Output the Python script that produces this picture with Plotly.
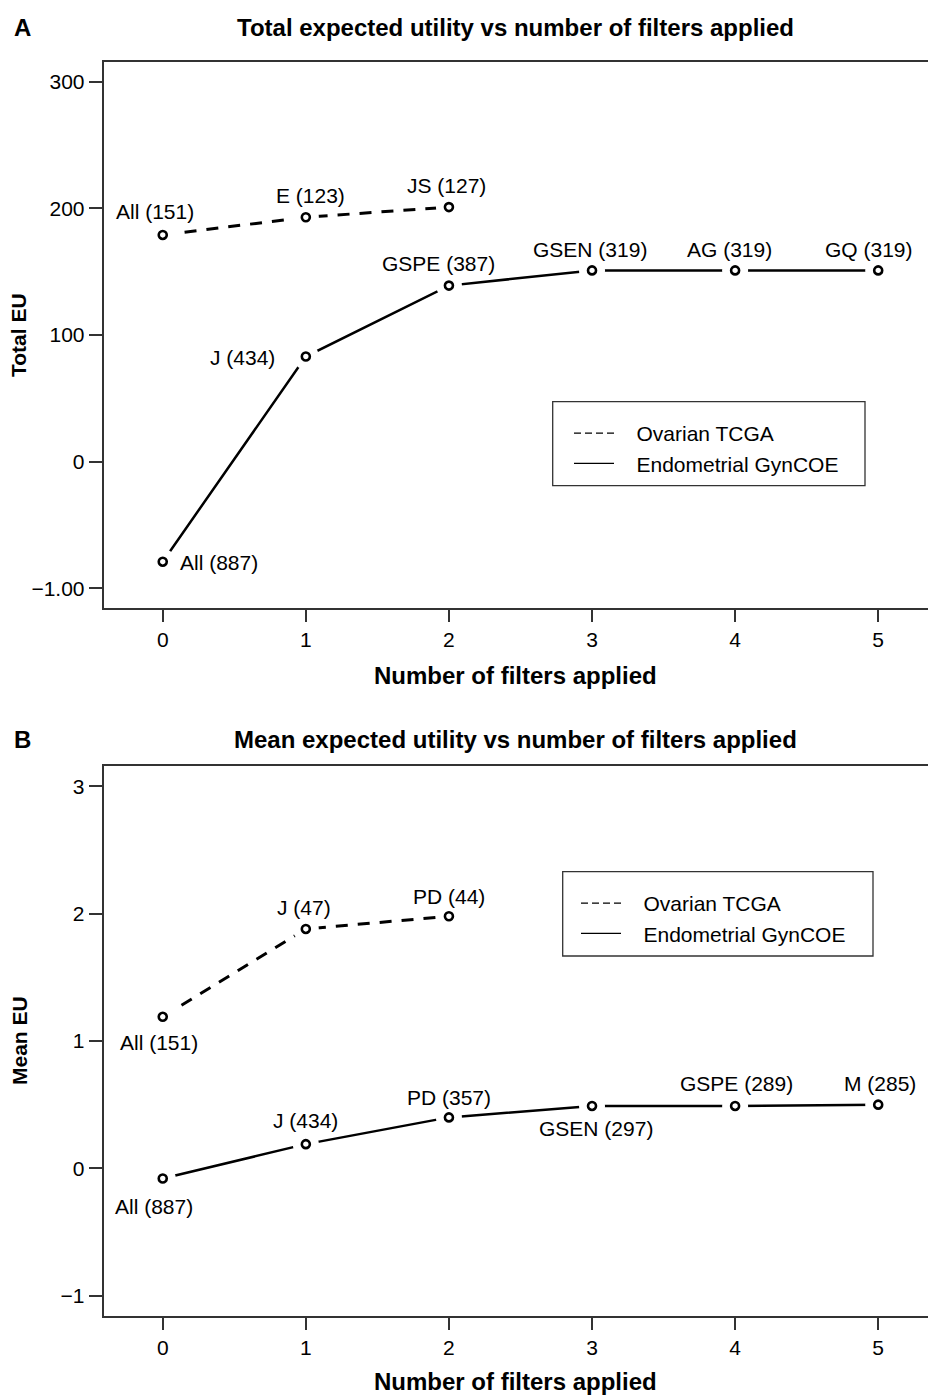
import plotly.graph_objects as go

W, H = 928, 1396

# ---------------- data ----------------
steps = [0, 1, 2, 3, 4, 5]

# Panel A: total expected utility
a_ov_x = [0, 1, 2]
a_ov_y = [179, 193, 201]
a_ov_lab = ["All (151)", "E (123)", "JS (127)"]

a_en_x = [0, 1, 2, 3, 4, 5]
a_en_y = [-79, 83, 139, 151, 151, 151]
a_en_lab = ["All (887)", "J (434)", "GSPE (387)", "GSEN (319)", "AG (319)", "GQ (319)"]

a_ytick_vals = [-100, 0, 100, 200, 300]
a_ytick_text = ["\u22121.00", "0", "100", "200", "300"]

# Panel B: mean expected utility
b_ov_x = [0, 1, 2]
b_ov_y = [1.19, 1.88, 1.98]
b_ov_lab = ["All (151)", "J (47)", "PD (44)"]

b_en_x = [0, 1, 2, 3, 4, 5]
b_en_y = [-0.08, 0.19, 0.40, 0.49, 0.49, 0.50]
b_en_lab = ["All (887)", "J (434)", "PD (357)", "GSEN (297)", "GSPE (289)", "M (285)"]

b_ytick_vals = [-1, 0, 1, 2, 3]
b_ytick_text = ["\u22121", "0", "1", "2", "3"]

series_names = ["Ovarian TCGA", "Endometrial GynCOE"]
titles = ["Total expected utility vs number of filters applied",
          "Mean expected utility vs number of filters applied"]
ytitles = ["Total EU", "Mean EU"]
xtitle = "Number of filters applied"
panel_letters = ["A", "B"]

# ---------------- style ----------------
FONT = "Liberation Sans, Arial, Helvetica, sans-serif"
AX = "#333333"

def px_x(p):
    return p / W

def px_y(p):
    return 1 - p / H

# label offsets (pixels) relative to markers: (xshift, yshift, xanchor)
a_ov_off = [(-8, 23, "center"), (5, 22, "center"), (-2, 22, "center")]
a_en_off = [(15, -1, "left"), (-29, -1, "right"), (-10, 22, "center"),
            (-2, 21, "center"), (-6, 21, "center"), (-9, 21, "center")]
b_ov_off = [(-4, -26, "center"), (-2, 21, "center"), (0, 20, "center")]
b_en_off = [(-9, -28, "center"), (0, 24, "center"), (0, 20, "center"),
            (4, -23, "center"), (1, 22, "center"), (2, 21, "center")]

fig = go.Figure()

panels = [
    dict(xa="x", ya="y", xd=[px_x(103.5), 1.0], yd=[px_y(608.3), px_y(61.7)],
         xr=[-0.414, 5.348], yr=[-115.8, 315.8],
         tv=a_ytick_vals, tt=a_ytick_text,
         ov=(a_ov_x, a_ov_y, a_ov_lab, a_ov_off),
         en=(a_en_x, a_en_y, a_en_lab, a_en_off),
         legend="legend", title_y=27, letter_y=27, xtitle_y=676,
         leg=dict(box=(552.7, 401.7, 865, 485.7), x=569, y=413)),
    dict(xa="x2", ya="y2", xd=[px_x(103.5), 1.0], yd=[px_y(1316), px_y(766)],
         xr=[-0.414, 5.348], yr=[-1.16, 3.16],
         tv=b_ytick_vals, tt=b_ytick_text,
         ov=(b_ov_x, b_ov_y, b_ov_lab, b_ov_off),
         en=(b_en_x, b_en_y, b_en_lab, b_en_off),
         legend="legend2", title_y=739, letter_y=739, xtitle_y=1381,
         leg=dict(box=(562.7, 871.7, 873, 956), x=576, y=883)),
]

annotations = []
shapes = []
layout_axes = {}

for i, P in enumerate(panels):
    for (xs, ys, labs, offs), dash, lw in [(P["ov"], "12px,10px", 3), (P["en"], "solid", 2.5)]:
        # connecting line
        fig.add_trace(go.Scatter(x=xs, y=ys, mode="lines", xaxis=P["xa"], yaxis=P["ya"],
                                 line=dict(color="black", width=lw, dash=dash),
                                 showlegend=False, hoverinfo="skip"))
        # white mask leaving a gap round each point
        fig.add_trace(go.Scatter(x=xs, y=ys, mode="markers", xaxis=P["xa"], yaxis=P["ya"],
                                 marker=dict(color="white", size=26, line=dict(width=0)),
                                 showlegend=False, hoverinfo="skip"))
        # point markers
        fig.add_trace(go.Scatter(x=xs, y=ys, mode="markers", xaxis=P["xa"], yaxis=P["ya"],
                                 marker=dict(symbol="circle", color="white", size=8,
                                             line=dict(color="black", width=2.6)),
                                 showlegend=False, hoverinfo="skip"))
        for x, y, lab, (dx, dy, anc) in zip(xs, ys, labs, offs):
            annotations.append(dict(x=x, y=y, xref=P["xa"], yref=P["ya"], text=lab,
                                    showarrow=False, xshift=dx, yshift=dy, xanchor=anc,
                                    yanchor="middle",
                                    font=dict(family=FONT, size=21, color="black")))
    # legend-only entries
    for name, dash in zip(series_names, ["7px,4px", "solid"]):
        fig.add_trace(go.Scatter(x=[None], y=[None], mode="lines",
                                 name="\u00a0\u00a0\u00a0" + name,
                                 xaxis=P["xa"], yaxis=P["ya"], legend=P["legend"],
                                 line=dict(color="black", width=1.3, dash=dash)))
    bx0, by0, bx1, by1 = P["leg"]["box"]
    shapes.append(dict(type="rect", xref="paper", yref="paper",
                       x0=px_x(bx0), x1=px_x(bx1), y0=px_y(by1), y1=px_y(by0),
                       line=dict(color=AX, width=1.3), fillcolor="rgba(0,0,0,0)"))
    layout_axes[P["legend"]] = dict(x=px_x(P["leg"]["x"]), y=px_y(P["leg"]["y"]),
                                    xanchor="left", yanchor="top",
                                    bgcolor="rgba(0,0,0,0)", borderwidth=0,
                                    itemwidth=40,
                                    font=dict(family=FONT, size=21, color="black"))

    axn = "" if i == 0 else "2"
    layout_axes["xaxis" + axn] = dict(domain=P["xd"], range=P["xr"], anchor=P["ya"],
                                      tickvals=steps, ticktext=[str(s) for s in steps],
                                      showline=True, linecolor=AX, linewidth=1.5, mirror=True,
                                      ticks="outside", ticklen=12, tickwidth=1.5, tickcolor=AX,
                                      showgrid=False, zeroline=False,
                                      tickfont=dict(family=FONT, size=21, color="black"))
    layout_axes["yaxis" + axn] = dict(domain=P["yd"], range=P["yr"], anchor=P["xa"],
                                      tickvals=P["tv"], ticktext=P["tt"],
                                      showline=True, linecolor=AX, linewidth=1.5, mirror=False,
                                      ticks="outside", ticklen=13, tickwidth=1.5, tickcolor=AX,
                                      showgrid=False, zeroline=False,
                                      tickfont=dict(family=FONT, size=21, color="black"))

    # titles
    annotations.append(dict(x=px_x(515), y=px_y(P["title_y"]), xref="paper", yref="paper",
                            text="<b>" + titles[i] + "</b>", showarrow=False,
                            xanchor="center", yanchor="middle",
                            font=dict(family=FONT, size=24, color="black")))
    annotations.append(dict(x=px_x(12), y=px_y(P["letter_y"]), xref="paper", yref="paper",
                            text="<b>" + panel_letters[i] + "</b>", showarrow=False,
                            xanchor="left", yanchor="middle",
                            font=dict(family=FONT, size=24, color="black")))
    annotations.append(dict(x=px_x(515), y=px_y(P["xtitle_y"]), xref="paper", yref="paper",
                            text="<b>" + xtitle + "</b>", showarrow=False,
                            xanchor="center", yanchor="middle",
                            font=dict(family=FONT, size=24, color="black")))
    ymid = (P["yd"][0] + P["yd"][1]) / 2
    annotations.append(dict(x=px_x(19), y=ymid, xref="paper", yref="paper",
                            text="<b>" + ytitles[i] + "</b>", showarrow=False, textangle=-90,
                            xanchor="center", yanchor="middle",
                            font=dict(family=FONT, size=21, color="black")))

fig.update_layout(width=W, height=H, autosize=False,
                  margin=dict(l=0, r=0, t=0, b=0),
                  paper_bgcolor="white", plot_bgcolor="white",
                  annotations=annotations, shapes=shapes, **layout_axes)

fig.write_html("out.html", config={"displayModeBar": False},
               post_script="document.body.style.margin='0';document.body.style.overflow='hidden';")
